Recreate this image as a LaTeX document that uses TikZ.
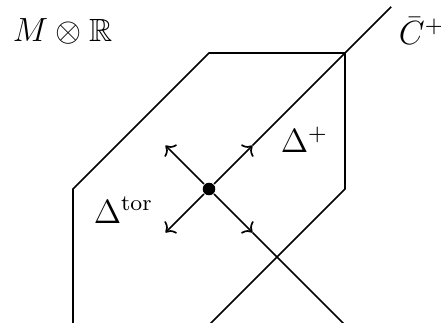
\documentclass[tikz,border=0pt]{standalone}
\usepackage{amsmath,amssymb}
\usetikzlibrary{arrows.meta,positioning,calc}

\begin{document}
\begin{tikzpicture}[x=1.71cm,y=1.71cm,semithick,
  pt/.style={circle,fill,inner sep=0pt,minimum size=4.5pt},
  lab/.style={inner sep=0pt,anchor=base west,font=\fontsize{11.5}{14}\selectfont}]
  \useasboundingbox (-1.537,-0.985) rectangle (1.706,1.39);
  \clip (-1.537,-0.985) rectangle (1.706,1.39);
  % Polytope boundary
  \draw (-1,-1.2) -- (-1,0) -- (0,1) -- (1,1) -- (1,0) -- (-0.2,-1.2);
  % Vertex and directions
  \node[pt] (o) at (0,0) {};
  \coordinate (nw) at (-0.32,0.32);
  \coordinate (sw) at (-0.32,-0.32);
  \coordinate (ne) at (0.32,0.32);
  \coordinate (se) at (0.32,-0.32);
  \coordinate (cend) at (1.34,1.34);
  \coordinate (send) at (1.2,-1.2);
  \draw[->] (o) -- (nw);
  \draw[->] (o) -- (sw);
  \draw[->] (o) -- (ne);
  \draw (ne) -- (cend);
  \draw[->] (o) -- (se);
  \draw (se) -- (send);
  % Labels
  \node[lab] (mr) at (-1.449,1.088) {$M\otimes\mathbb{R}$};
  \node[lab] (cp) at (1.39,1.06) {$\bar{C}^+$};
  \node[lab] (dp) at (0.522,0.265) {$\Delta^+$};
  \node[lab] (dt) at (-0.853,-0.25) {$\Delta^{\mathrm{tor}}$};
\end{tikzpicture}
\end{document}
